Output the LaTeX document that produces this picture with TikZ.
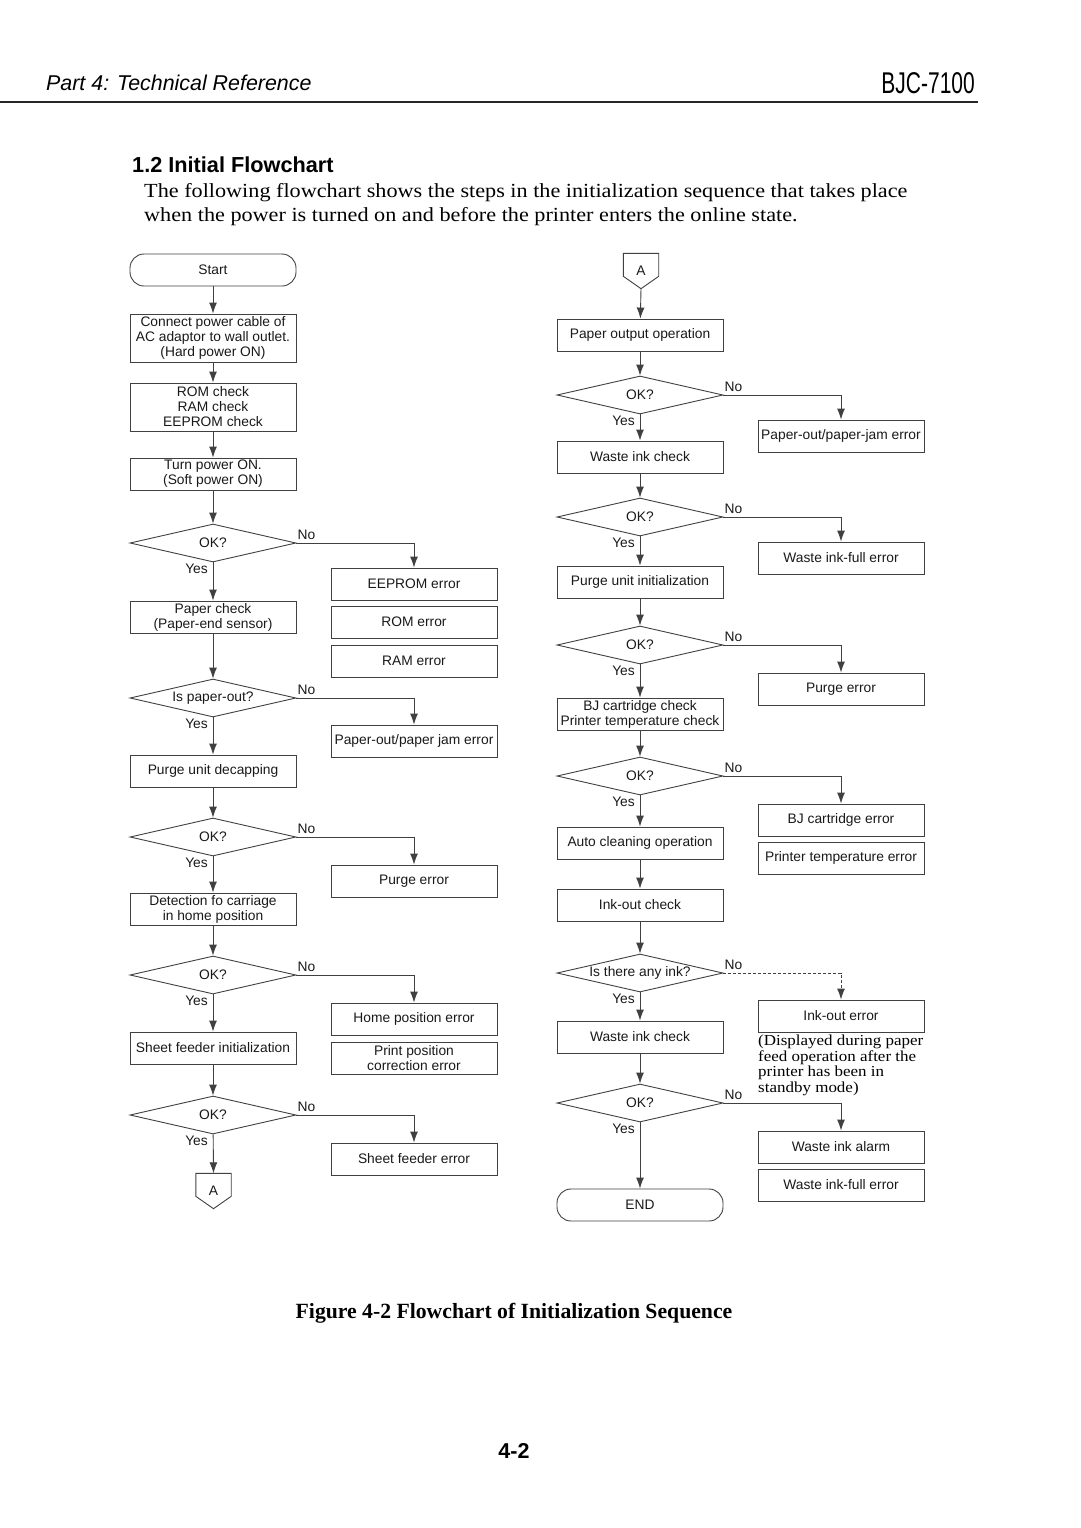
\documentclass[tikz,border=0pt]{standalone}
\usepackage{fontspec}
\setsansfont{Liberation Sans}
\newfontfamily\bodyserif[FakeStretch=1.11]{Liberation Serif}
\newfontfamily\capserif{Liberation Serif}
\newfontfamily\narrowsans[FakeStretch=0.7]{Liberation Sans}
\usetikzlibrary{shapes.geometric,arrows.meta,calc}
\tikzset{>={Latex[length=11pt,width=8pt]}}
\begin{document}
\begin{tikzpicture}[x=1pt,y=-1pt]
                % page frame, y runs downwards like the scan
                \useasboundingbox (0,0) rectangle (1080,1528);
                \tikzstyle{every node}=[inner sep=1pt]
                \tikzstyle{proc}=[rectangle, draw=black!75, line width=0.9pt, minimum width=166pt, minimum height=32pt, align=center, font=\sffamily\fontsize{13.8}{15}\selectfont, text=black!90]
                \tikzstyle{term}=[proc, rounded corners=14pt]
                \tikzstyle{dec}=[diamond, aspect=4.4, draw=black!75, line width=0.9pt, minimum width=166pt, minimum height=38pt, inner sep=0pt, font=\sffamily\fontsize{13.8}{15}\selectfont, text=black!90]
                \tikzstyle{lbl}=[font=\sffamily\fontsize{13.8}{15}\selectfont, text=black!90]
                \tikzstyle{conn}=[minimum width=35pt, minimum height=35pt, font=\sffamily\fontsize{13.8}{15}\selectfont, text=black!90]
                \tikzstyle{flow}=[->, draw=black!75, line width=0.9pt]

                % header
                \node[anchor=base west, font=\sffamily\itshape\fontsize{21.4}{24}\selectfont] (part) at (45,90) {Part 4: Technical Reference};
                \node[anchor=base east, font=\narrowsans\fontsize{30}{32}\selectfont] (model) at (976,93) {BJC-7100};
                \draw[line width=1.8pt, black!85] (0,102) -- (978,102);
                \node[anchor=base west, font=\sffamily\bfseries\fontsize{21.7}{24}\selectfont] (sect) at (131,172) {1.2 Initial Flowchart};
                \node[anchor=base west, font=\bodyserif\fontsize{20}{24}\selectfont] (body1) at (143,197) {The following flowchart shows the steps in the initialization sequence that takes place};
                \node[anchor=base west, font=\bodyserif\fontsize{20}{24}\selectfont] (body2) at (143,221) {when the power is turned on and before the printer enters the online state.};

                % left column
                \node[term] (start) at (213,270) {Start};
                \node[proc, minimum height=48pt] (cable) at (213,338) {Connect power cable of\\AC adaptor to wall outlet.\\(Hard power ON)};
                \node[proc, minimum height=48pt] (memchk) at (213,407) {ROM check\\RAM check\\EEPROM check};
                \node[proc] (softon) at (213,474) {Turn power ON.\\(Soft power ON)};
                \node[dec] (okA) at (213,543) {OK?};
                \node[proc] (paperchk) at (213,617) {Paper check\\(Paper-end sensor)};
                \node[dec] (pout) at (213,698) {Is paper-out?};
                \node[proc] (decap) at (213,771) {Purge unit decapping};
                \node[dec] (okB) at (213,837) {OK?};
                \node[proc] (homedet) at (213,909) {Detection fo carriage\\in home position};
                \node[dec] (okC) at (213,975) {OK?};
                \node[proc] (sfinit) at (213,1048) {Sheet feeder initialization};
                \node[dec] (okD) at (213,1115) {OK?};
                \node[conn] (conA) at (213.5,1191) {A};
                \draw[draw=black!75, line width=0.9pt] (conA.north west) -- (conA.north east) -- ++(0,23) -- (conA.south) -- ($(conA.north west)+(0,23)$) -- cycle;

                \node[proc] (eeperr) at (414,584) {EEPROM error};
                \node[proc] (romerr) at (414,622) {ROM error};
                \node[proc] (ramerr) at (414,661) {RAM error};
                \node[proc] (jamerr) at (414,741) {Paper-out/paper jam error};
                \node[proc] (purgeerr) at (414,881) {Purge error};
                \node[proc] (homeerr) at (414,1019) {Home position error};
                \node[proc] (poserr) at (414,1058) {Print position\\correction error};
                \node[proc] (sferr) at (414,1159) {Sheet feeder error};

                % right column
                \node[conn] (conB) at (641,271) {A};
                \draw[draw=black!75, line width=0.9pt] (conB.north west) -- (conB.north east) -- ++(0,23) -- (conB.south) -- ($(conB.north west)+(0,23)$) -- cycle;
                \node[proc] (outop) at (640,335) {Paper output operation};
                \node[dec] (okE) at (640,395) {OK?};
                \node[proc] (wastechk) at (640,457) {Waste ink check};
                \node[dec] (okF) at (640,517) {OK?};
                \node[proc] (purgeinit) at (640,582) {Purge unit initialization};
                \node[dec] (okG) at (640,645) {OK?};
                \node[proc] (bjchk) at (640,714) {BJ cartridge check\\Printer temperature check};
                \node[dec] (okH) at (640,776) {OK?};
                \node[proc] (autoclean) at (640,843) {Auto cleaning operation};
                \node[proc] (inkchk) at (640,905) {Ink-out check};
                \node[dec] (inkq) at (640,973) {Is there any ink?};
                \node[proc] (wastechkb) at (640,1037) {Waste ink check};
                \node[dec] (okI) at (640,1103) {OK?};
                \node[term] (finish) at (640,1205) {END};

                \node[proc] (jamerrb) at (841,436) {Paper-out/paper-jam error};
                \node[proc] (fullerr) at (841,558) {Waste ink-full error};
                \node[proc] (purgeerrb) at (841,689) {Purge error};
                \node[proc] (bjerr) at (841,820) {BJ cartridge error};
                \node[proc] (temperr) at (841,858) {Printer temperature error};
                \node[proc] (inkerr) at (841,1016) {Ink-out error};
                \node[anchor=north west, inner sep=0pt, align=left, font=\bodyserif\fontsize{15.3}{15.5}\selectfont] (inknote) at (758,1035) {(Displayed during paper\\feed operation after the\\printer has been in\\standby mode)};
                \node[proc] (alarm) at (841,1147) {Waste ink alarm};
                \node[proc] (fullerrb) at (841,1185) {Waste ink-full error};

                % main flow
                \draw[flow] (start) -- (cable);
                \draw[flow] (cable) -- (memchk);
                \draw[flow] (memchk) -- (softon);
                \draw[flow] (softon) -- (okA);
                \draw[flow] (okA) -- (paperchk);
                \draw[flow] (paperchk) -- (pout);
                \draw[flow] (pout) -- (decap);
                \draw[flow] (decap) -- (okB);
                \draw[flow] (okB) -- (homedet);
                \draw[flow] (homedet) -- (okC);
                \draw[flow] (okC) -- (sfinit);
                \draw[flow] (sfinit) -- (okD);
                \draw[flow] (okD) -- (conA.north);
                \draw[flow] (conB.south) -- (outop);
                \draw[flow] (outop) -- (okE);
                \draw[flow] (okE) -- (wastechk);
                \draw[flow] (wastechk) -- (okF);
                \draw[flow] (okF) -- (purgeinit);
                \draw[flow] (purgeinit) -- (okG);
                \draw[flow] (okG) -- (bjchk);
                \draw[flow] (bjchk) -- (okH);
                \draw[flow] (okH) -- (autoclean);
                \draw[flow] (autoclean) -- (inkchk);
                \draw[flow] (inkchk) -- (inkq);
                \draw[flow] (inkq) -- (wastechkb);
                \draw[flow] (wastechkb) -- (okI);
                \draw[flow] (okI) -- (finish);

                % no branches
                \draw[flow] (okA.east) -| (eeperr.north);
                \draw[flow] (pout.east) -| (jamerr.north);
                \draw[flow] (okB.east) -| (purgeerr.north);
                \draw[flow] (okC.east) -| (homeerr.north);
                \draw[flow] (okD.east) -| (sferr.north);
                \draw[flow] (okE.east) -| (jamerrb.north);
                \draw[flow] (okF.east) -| (fullerr.north);
                \draw[flow] (okG.east) -| (purgeerrb.north);
                \draw[flow] (okH.east) -| (bjerr.north);
                \draw[flow, dash pattern=on 3pt off 2pt] (inkq.east) -| (inkerr.north);
                \draw[flow] (okI.east) -| (alarm.north);

                % yes / no labels
                \node[lbl, anchor=south west, yshift=2pt] (noA) at (okA.east) {No};
                \node[lbl, anchor=north east, xshift=-4pt] (yesA) at (okA.south) {Yes};
                \node[lbl, anchor=south west, yshift=2pt] (noP) at (pout.east) {No};
                \node[lbl, anchor=north east, xshift=-4pt] (yesP) at (pout.south) {Yes};
                \node[lbl, anchor=south west, yshift=2pt] (noB) at (okB.east) {No};
                \node[lbl, anchor=north east, xshift=-4pt] (yesB) at (okB.south) {Yes};
                \node[lbl, anchor=south west, yshift=2pt] (noC) at (okC.east) {No};
                \node[lbl, anchor=north east, xshift=-4pt] (yesC) at (okC.south) {Yes};
                \node[lbl, anchor=south west, yshift=2pt] (noD) at (okD.east) {No};
                \node[lbl, anchor=north east, xshift=-4pt] (yesD) at (okD.south) {Yes};
                \node[lbl, anchor=south west, yshift=2pt] (noE) at (okE.east) {No};
                \node[lbl, anchor=north east, xshift=-4pt] (yesE) at (okE.south) {Yes};
                \node[lbl, anchor=south west, yshift=2pt] (noF) at (okF.east) {No};
                \node[lbl, anchor=north east, xshift=-4pt] (yesF) at (okF.south) {Yes};
                \node[lbl, anchor=south west, yshift=2pt] (noG) at (okG.east) {No};
                \node[lbl, anchor=north east, xshift=-4pt] (yesG) at (okG.south) {Yes};
                \node[lbl, anchor=south west, yshift=2pt] (noH) at (okH.east) {No};
                \node[lbl, anchor=north east, xshift=-4pt] (yesH) at (okH.south) {Yes};
                \node[lbl, anchor=south west, yshift=2pt] (noQ) at (inkq.east) {No};
                \node[lbl, anchor=north east, xshift=-4pt] (yesQ) at (inkq.south) {Yes};
                \node[lbl, anchor=south west, yshift=2pt] (noI) at (okI.east) {No};
                \node[lbl, anchor=north east, xshift=-4pt] (yesI) at (okI.south) {Yes};

                % caption and page number
                \node[anchor=base, font=\capserif\bfseries\fontsize{21.7}{24}\selectfont] (caption) at (514,1318) {Figure 4-2 Flowchart of Initialization Sequence};
                \node[anchor=base, font=\sffamily\bfseries\fontsize{21.5}{24}\selectfont] (pageno) at (514,1458) {4-2};
        \end{tikzpicture}
\end{document}
